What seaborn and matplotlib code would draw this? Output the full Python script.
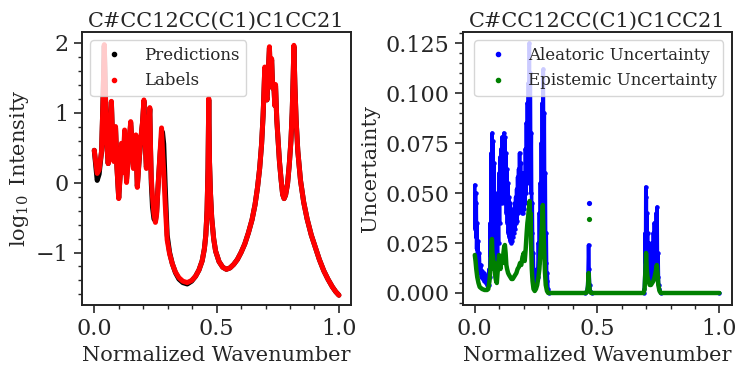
import matplotlib
matplotlib.use("Agg")
import matplotlib.pyplot as plt
from matplotlib.lines import Line2D
from matplotlib.ticker import MultipleLocator
import seaborn as sns

TITLE = "C#CC12CC(C1)C1CC21"

# ---- left panel: log10 intensity (labels / predictions) ----
wn = [0.000, 0.006, 0.012, 0.020, 0.030, 0.036, 0.041, 0.046, 0.051, 0.057,
      0.063, 0.070, 0.075, 0.080, 0.087, 0.093, 0.100, 0.106, 0.111, 0.116,
      0.119, 0.124, 0.128, 0.132, 0.137, 0.142, 0.149, 0.155, 0.160, 0.165,
      0.170, 0.173, 0.176, 0.182, 0.190, 0.197, 0.203, 0.208, 0.213, 0.220,
      0.227, 0.230, 0.233, 0.238, 0.244, 0.250, 0.255, 0.260, 0.265, 0.270,
      0.275, 0.279, 0.284, 0.290, 0.298, 0.308, 0.319, 0.332, 0.346, 0.362,
      0.380, 0.398, 0.414, 0.428, 0.441, 0.450, 0.456, 0.461, 0.465, 0.468,
      0.471, 0.475, 0.480, 0.488, 0.496, 0.510, 0.525, 0.540, 0.555, 0.570,
      0.585, 0.600, 0.615, 0.630, 0.645, 0.657, 0.667, 0.676, 0.684, 0.690,
      0.693, 0.697, 0.701, 0.706, 0.711, 0.716, 0.720, 0.725, 0.729, 0.734,
      0.738, 0.741, 0.746, 0.751, 0.757, 0.764, 0.770, 0.776, 0.782, 0.790,
      0.797, 0.804, 0.809, 0.813, 0.816, 0.820, 0.825, 0.832, 0.843, 0.856,
      0.870, 0.887, 0.904, 0.920, 0.938, 0.955, 0.973, 0.987, 1.000]
labels = [0.46, 0.30, 0.13, 0.18, 0.45, 1.20, 1.97, 1.20, 0.55, 0.27,
          0.55, 1.16, 0.60, 0.30, 0.80, 0.20, -0.23, 0.10, 0.56, 0.30,
          0.14, 0.75, 0.30, 0.00, 0.25, 0.56, 0.87, 0.50, 0.20, 0.45,
          0.68, 0.30, -0.07, 0.25, 0.62, 0.85, 1.18, 0.60, 0.20, 0.60,
          1.07, 0.50, 0.07, -0.20, -0.45, -0.57, -0.45, -0.10, 0.20, 0.50,
          0.78, 0.45, 0.14, -0.30, -0.82, -1.02, -1.16, -1.28, -1.36, -1.41,
          -1.43, -1.40, -1.34, -1.25, -1.12, -0.95, -0.75, -0.40, 0.20, 1.20,
          0.30, -0.15, -0.50, -0.80, -0.98, -1.13, -1.21, -1.24, -1.22, -1.17,
          -1.10, -1.00, -0.88, -0.72, -0.53, -0.32, -0.08, 0.20, 0.55, 0.95,
          1.22, 1.65, 1.30, 1.18, 1.55, 1.94, 1.45, 1.77, 1.35, 1.41,
          1.10, 1.40, 0.90, 0.62, 0.30, 0.03, -0.17, -0.23, -0.18, -0.02,
          0.25, 0.60, 1.00, 1.50, 1.96, 1.40, 0.90, 0.45, 0.03, -0.28,
          -0.52, -0.75, -0.93, -1.10, -1.26, -1.38, -1.49, -1.56, -1.61]
predictions = [0.46, 0.25, 0.03, 0.12, 0.45, 1.20, 1.95, 1.20, 0.55, 0.27,
               0.55, 1.15, 0.60, 0.32, 0.78, 0.20, -0.22, 0.12, 0.52, 0.33,
               0.18, 0.70, 0.35, 0.05, 0.28, 0.52, 0.85, 0.52, 0.22, 0.45,
               0.66, 0.32, -0.05, 0.25, 0.60, 0.84, 1.16, 0.62, 0.22, 0.58,
               1.05, 0.48, 0.00, -0.35, -0.52, -0.55, -0.42, -0.10, 0.18, 0.45,
               0.65, 0.72, 0.55, -0.05, -0.75, -1.00, -1.16, -1.29, -1.38, -1.43,
               -1.45, -1.41, -1.34, -1.25, -1.12, -0.95, -0.75, -0.40, 0.20, 1.18,
               0.30, -0.15, -0.50, -0.80, -0.98, -1.13, -1.21, -1.24, -1.22, -1.17,
               -1.10, -1.00, -0.88, -0.72, -0.53, -0.32, -0.08, 0.20, 0.55, 0.95,
               1.22, 1.63, 1.30, 1.18, 1.55, 1.92, 1.45, 1.75, 1.35, 1.40,
               1.10, 1.38, 0.90, 0.62, 0.30, 0.03, -0.17, -0.23, -0.18, -0.02,
               0.25, 0.60, 1.00, 1.50, 1.94, 1.40, 0.90, 0.45, 0.03, -0.28,
               -0.52, -0.75, -0.93, -1.10, -1.26, -1.38, -1.49, -1.56, -1.61]

# ---- right panel: uncertainties ----
alea_x = [0.000, 0.0015, 0.003, 0.0045, 0.006, 0.0075, 0.009, 0.011, 0.013, 0.015,
          0.018, 0.021, 0.024, 0.027, 0.030, 0.033, 0.036, 0.039, 0.042, 0.045,
          0.048, 0.051, 0.054, 0.057, 0.059, 0.061, 0.063, 0.065, 0.067, 0.069,
          0.071, 0.073, 0.075, 0.077, 0.079, 0.081, 0.083, 0.085, 0.087, 0.089,
          0.091, 0.093, 0.095, 0.097, 0.099, 0.101, 0.103, 0.105, 0.107, 0.109,
          0.111, 0.113, 0.115, 0.117, 0.119, 0.121, 0.123, 0.125, 0.127, 0.129,
          0.131, 0.133, 0.135, 0.137, 0.139, 0.141, 0.143, 0.145, 0.147, 0.149,
          0.151, 0.153, 0.155, 0.157, 0.159, 0.161, 0.163, 0.165, 0.167, 0.169,
          0.171, 0.173, 0.175, 0.177, 0.179, 0.181, 0.183, 0.185, 0.187, 0.189,
          0.191, 0.193, 0.195, 0.197, 0.199, 0.201, 0.203, 0.205, 0.207, 0.209,
          0.211, 0.213, 0.215, 0.217, 0.219, 0.221, 0.223, 0.225, 0.227, 0.229,
          0.231, 0.233, 0.235, 0.237, 0.239, 0.241, 0.243, 0.245, 0.248, 0.251,
          0.254, 0.257, 0.260, 0.262, 0.264, 0.266, 0.268, 0.270, 0.272, 0.274,
          0.276, 0.278, 0.280, 0.282, 0.284, 0.286, 0.288, 0.290, 0.292, 0.294,
          0.296, 0.299, 0.305, 0.450, 0.458, 0.461, 0.463, 0.465, 0.467, 0.469,
          0.472, 0.480, 0.690, 0.693, 0.695, 0.697, 0.698, 0.699, 0.700, 0.701,
          0.702, 0.703, 0.704, 0.706, 0.708, 0.710, 0.712, 0.714, 0.716, 0.718,
          0.720, 0.722, 0.724, 0.726, 0.728, 0.730, 0.732, 0.734, 0.736, 0.738,
          0.740, 0.742, 0.744, 0.745, 0.747, 0.749, 0.751, 0.754, 0.760, 1.000]
alea_y = [0.054, 0.032, 0.050, 0.028, 0.045, 0.022, 0.035, 0.016, 0.026, 0.012,
          0.020, 0.010, 0.014, 0.008, 0.011, 0.007, 0.010, 0.006, 0.009, 0.005,
          0.008, 0.004, 0.006, 0.004, 0.012, 0.008, 0.035, 0.018, 0.070, 0.030,
          0.080, 0.040, 0.076, 0.025, 0.065, 0.022, 0.050, 0.018, 0.038, 0.012,
          0.030, 0.014, 0.045, 0.025, 0.060, 0.035, 0.068, 0.045, 0.072, 0.050,
          0.078, 0.045, 0.076, 0.052, 0.080, 0.050, 0.078, 0.045, 0.070, 0.040,
          0.062, 0.035, 0.055, 0.030, 0.048, 0.028, 0.045, 0.026, 0.042, 0.025,
          0.040, 0.026, 0.038, 0.028, 0.042, 0.030, 0.045, 0.032, 0.048, 0.035,
          0.052, 0.036, 0.058, 0.040, 0.062, 0.042, 0.070, 0.045, 0.065, 0.042,
          0.060, 0.040, 0.058, 0.040, 0.055, 0.042, 0.060, 0.045, 0.072, 0.050,
          0.085, 0.055, 0.095, 0.060, 0.105, 0.065, 0.125, 0.070, 0.110, 0.050,
          0.080, 0.030, 0.045, 0.012, 0.020, 0.005, 0.010, 0.004, 0.008, 0.005,
          0.012, 0.008, 0.025, 0.015, 0.040, 0.020, 0.055, 0.025, 0.075, 0.035,
          0.095, 0.040, 0.112, 0.045, 0.090, 0.030, 0.060, 0.015, 0.030, 0.006,
          0.010, 0.002, 0.000, 0.000, 0.001, 0.003, 0.010, 0.024, 0.012, 0.004,
          0.001, 0.000, 0.000, 0.002, 0.010, 0.030, 0.015, 0.053, 0.020, 0.048,
          0.015, 0.040, 0.012, 0.030, 0.010, 0.025, 0.008, 0.020, 0.006, 0.015,
          0.006, 0.018, 0.008, 0.025, 0.010, 0.030, 0.012, 0.035, 0.012, 0.033,
          0.010, 0.040, 0.012, 0.043, 0.008, 0.020, 0.004, 0.002, 0.000, 0.000]
alea_iso_x = [0.465]
alea_iso_y = [0.045]

epi_x = [0.000, 0.003, 0.006, 0.010, 0.015, 0.020, 0.030, 0.040, 0.050, 0.055,
         0.060, 0.064, 0.067, 0.070, 0.072, 0.075, 0.078, 0.081, 0.084, 0.087,
         0.090, 0.093, 0.096, 0.099, 0.102, 0.105, 0.108, 0.111, 0.114, 0.117,
         0.120, 0.123, 0.126, 0.129, 0.132, 0.136, 0.140, 0.145, 0.150, 0.155,
         0.160, 0.165, 0.170, 0.175, 0.180, 0.185, 0.190, 0.195, 0.200, 0.204,
         0.208, 0.212, 0.215, 0.218, 0.221, 0.224, 0.226, 0.228, 0.230, 0.233,
         0.236, 0.240, 0.245, 0.250, 0.255, 0.260, 0.264, 0.268, 0.272, 0.275,
         0.278, 0.281, 0.284, 0.287, 0.290, 0.295, 0.300, 0.455, 0.460, 0.463,
         0.465, 0.467, 0.470, 0.475, 0.690, 0.694, 0.697, 0.700, 0.703, 0.706,
         0.710, 0.715, 0.720, 0.725, 0.730, 0.735, 0.740, 0.744, 0.747, 0.750,
         0.755, 0.760, 1.000]
epi_y = [0.019, 0.016, 0.012, 0.008, 0.005, 0.003, 0.002, 0.0015, 0.0015, 0.002,
         0.006, 0.012, 0.020, 0.027, 0.020, 0.018, 0.012, 0.015, 0.008, 0.006,
         0.005, 0.010, 0.014, 0.019, 0.016, 0.012, 0.016, 0.018, 0.015, 0.020,
         0.023, 0.024, 0.020, 0.014, 0.012, 0.010, 0.009, 0.008, 0.007, 0.007,
         0.008, 0.009, 0.010, 0.012, 0.013, 0.015, 0.014, 0.018, 0.020, 0.016,
         0.022, 0.030, 0.035, 0.038, 0.042, 0.046, 0.035, 0.040, 0.025, 0.012,
         0.006, 0.002, 0.001, 0.002, 0.004, 0.008, 0.012, 0.020, 0.028, 0.035,
         0.044, 0.030, 0.020, 0.010, 0.004, 0.001, 0.000, 0.000, 0.001, 0.004,
         0.010, 0.005, 0.001, 0.000, 0.000, 0.002, 0.010, 0.020, 0.012, 0.008,
         0.006, 0.004, 0.004, 0.005, 0.006, 0.008, 0.011, 0.014, 0.010, 0.004,
         0.001, 0.000, 0.000]
epi_iso_x = [0.465]
epi_iso_y = [0.037]

sns.set_theme(style="ticks")
plt.rcParams["font.family"] = ["DejaVu Serif"]
plt.rcParams["mathtext.fontset"] = "dejavuserif"
plt.rcParams["font.size"] = 15
plt.rcParams["axes.edgecolor"] = "#222222"
plt.rcParams["axes.linewidth"] = 1.4

fig, axes = plt.subplots(1, 2, figsize=(7.47, 3.74), dpi=100)
fig.subplots_adjust(left=0.1098, right=0.9795, bottom=0.1845, top=0.9144, wspace=0.414)

# left: spectrum
ax = axes[0]
sns.lineplot(x=wn, y=predictions, ax=ax, sort=False, estimator=None,
             color="black", linewidth=3.6, legend=False)
sns.lineplot(x=wn, y=labels, ax=ax, sort=False, estimator=None,
             color="red", linewidth=3.6, legend=False)
ax.set_ylim(-1.75, 2.15)
ax.yaxis.set_major_locator(MultipleLocator(1))
ax.yaxis.set_minor_locator(MultipleLocator(0.2))
ax.set_ylabel(r"$\log_{10}$ Intensity", fontsize=15)
handles = [Line2D([], [], marker=".", ls="", color="black", label="Predictions"),
           Line2D([], [], marker=".", ls="", color="red", label="Labels")]
ax.legend(handles=handles, loc="upper left", fontsize=12)

# right: uncertainties
ax = axes[1]
sns.lineplot(x=alea_x, y=alea_y, ax=ax, sort=False, estimator=None,
             color="blue", linewidth=2.6, marker="o", markersize=3.2,
             markeredgewidth=0, legend=False)
sns.scatterplot(x=alea_iso_x, y=alea_iso_y, ax=ax, color="blue", s=14,
                linewidth=0, legend=False)
sns.lineplot(x=epi_x, y=epi_y, ax=ax, sort=False, estimator=None,
             color="green", linewidth=3.2, legend=False)
sns.scatterplot(x=epi_iso_x, y=epi_iso_y, ax=ax, color="green", s=14,
                linewidth=0, legend=False)
ax.set_ylim(-0.006, 0.1305)
ax.yaxis.set_major_locator(MultipleLocator(0.025))
ax.yaxis.set_minor_locator(MultipleLocator(0.005))
ax.set_ylabel("Uncertainty", fontsize=15)
handles = [Line2D([], [], marker=".", ls="", color="blue", label="Aleatoric Uncertainty"),
           Line2D([], [], marker=".", ls="", color="green", label="Epistemic Uncertainty")]
ax.legend(handles=handles, loc="upper right", fontsize=12)

for ax in axes:
    ax.set_xlim(-0.05, 1.05)
    ax.xaxis.set_major_locator(MultipleLocator(0.5))
    ax.xaxis.set_minor_locator(MultipleLocator(0.1))
    ax.set_xlabel("Normalized Wavenumber", fontsize=15)
    ax.set_title(TITLE, fontsize=15, pad=4)
    ax.tick_params(which="major", length=6, width=1.2, labelsize=16, direction="out")
    ax.tick_params(which="minor", length=3, width=1.0, direction="out")
    for s in ax.spines.values():
        s.set_visible(True)

fig.savefig("out.png", dpi=100)
